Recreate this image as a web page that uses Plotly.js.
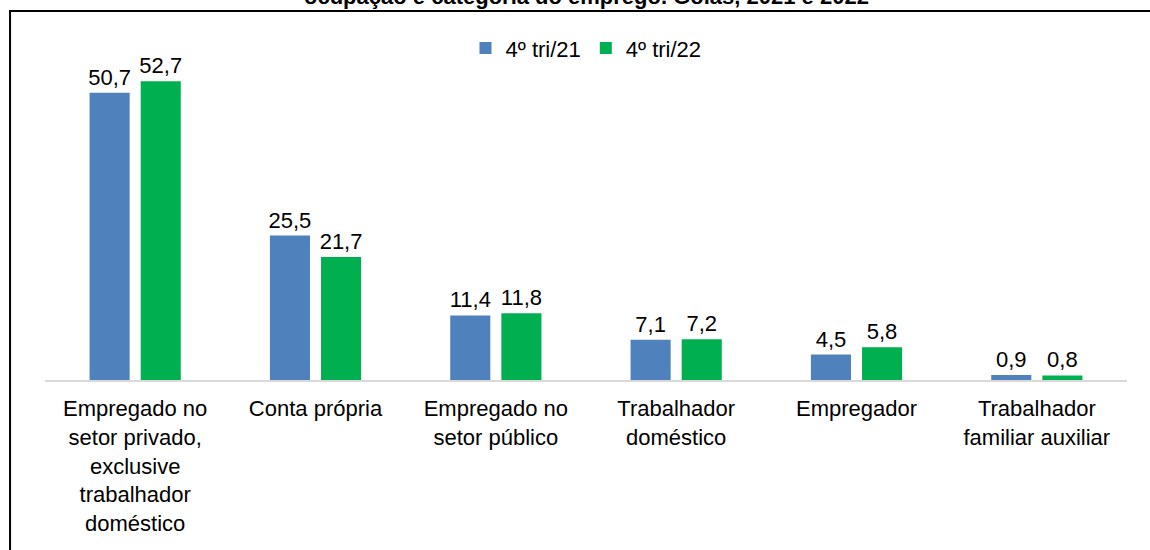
<!DOCTYPE html>
<html>
<head>
<meta charset="utf-8">
<script src="https://cdn.plot.ly/plotly-3.0.1.min.js"></script>
<style>html,body{margin:0;padding:0;background:#fff;}</style>
</head>
<body>
<div id="chart" style="width:1150px;height:550px;"></div>
<script>
const categories = [
  "Empregado no<br>setor privado,<br>exclusive<br>trabalhador<br>doméstico",
  "Conta própria",
  "Empregado no<br>setor público",
  "Trabalhador<br>doméstico",
  "Empregador",
  "Trabalhador<br>familiar auxiliar"
];
const seriesNames = ["4º tri/21", "4º tri/22"];
const values21 = [50.7, 25.5, 11.4, 7.1, 4.5, 0.9];
const values22 = [52.7, 21.7, 11.8, 7.2, 5.8, 0.8];
const titleText = "ocupação e categoria do emprego. Goiás, 2021 e 2022";

const font = "Liberation Sans, Arial, sans-serif";

const traces = [
  {type: "bar", name: seriesNames[0], x: categories, y: values21,
   marker: {color: "#4F81BD"}, texttemplate: "%{y:.1f}", textposition: "outside", constraintext: "none",
   textfont: {size: 22, color: "#000", family: font}, cliponaxis: false, hoverinfo: "none"},
  {type: "bar", name: seriesNames[1], x: categories, y: values22,
   marker: {color: "#00B050"}, texttemplate: "%{y:.1f}", textposition: "outside", constraintext: "none",
   textfont: {size: 22, color: "#000", family: font}, cliponaxis: false, hoverinfo: "none"}
];

const layout = {
  width: 1150, height: 550,
  margin: {l: 45, r: 23, t: 40, b: 170},
  paper_bgcolor: "#fff", plot_bgcolor: "#fff",
  separators: ",.",
  font: {family: font, size: 22, color: "#000"},
  barmode: "group", bargap: 0.433, bargroupgap: 0.216,
  showlegend: true,
  legend: {orientation: "h", x: 0.5, xanchor: "center", y: 0.976, yanchor: "middle",
           font: {size: 22, family: font, color: "#000"}, itemwidth: 30, tracegroupgap: 0,
           bgcolor: "rgba(0,0,0,0)"},
  xaxis: {type: "category", showline: true, linecolor: "#d9d9d9", linewidth: 2,
          ticks: "", showgrid: false, zeroline: false, tickangle: 0, ticklabelstandoff: 8,
          tickfont: {size: 22, family: font, color: "#000"}, fixedrange: true},
  yaxis: {range: [0, 60], visible: false, showgrid: false, zeroline: false, fixedrange: true},
  shapes: [
    {type: "rect", xref: "paper", yref: "paper", x0: -0.0323, x1: 1.1, y0: -0.7, y1: 1.0853,
     line: {color: "#000", width: 2}, fillcolor: "rgba(0,0,0,0)", layer: "above"}
  ],
  annotations: [
    {xref: "paper", yref: "paper", x: 0.5, y: 1.1265, xanchor: "center", yanchor: "middle",
     text: "<b>" + titleText + "</b>", showarrow: false,
     font: {size: 22, family: font, color: "#000"}}
  ]
};

Plotly.newPlot("chart", traces, layout, {displayModeBar: false, staticPlot: true});
</script>
</body>
</html>
